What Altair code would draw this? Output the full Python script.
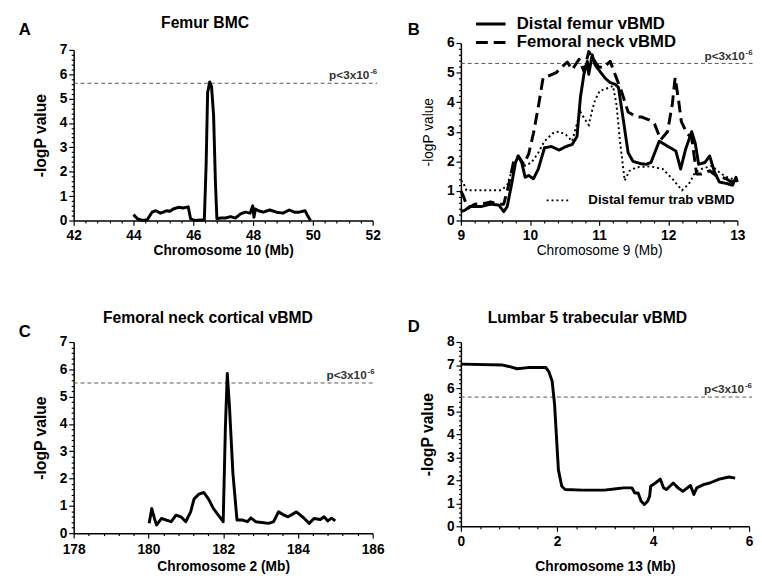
import altair as alt
import pandas as pd

FONT = "Liberation Sans"
P_MAIN = "p<3x10"
P_EXP = "-6"

# ---------------- Panel A: Femur BMC, chromosome 10 ----------------
a_pos = [44.0, 44.13, 44.3, 44.46, 44.62, 44.75, 44.9, 45.0, 45.1, 45.22, 45.33, 45.5,
         45.66, 45.83, 45.91, 46.04, 46.37, 46.43, 46.48, 46.55, 46.61, 46.68, 46.74,
         46.79, 46.92, 47.08, 47.25, 47.41, 47.58, 47.74, 47.9, 47.99, 48.03, 48.08,
         48.18, 48.34, 48.56, 48.78, 49.0, 49.21, 49.38, 49.54, 49.74, 49.82, 49.92]
a_val = [0.24, 0.07, 0.0, 0.03, 0.34, 0.4, 0.3, 0.34, 0.4, 0.38, 0.47, 0.54,
         0.51, 0.56, 0.07, 0.0, 0.03, 2.3, 5.25, 5.68, 5.5, 4.3, 1.6,
         0.07, 0.1, 0.1, 0.16, 0.1, 0.27, 0.34, 0.3, 0.6, 0.13, 0.47,
         0.4, 0.34, 0.43, 0.34, 0.3, 0.43, 0.34, 0.34, 0.4, 0.2, 0.0]

# ---------------- Panel B: chromosome 9 ----------------
b1_name = "Distal femur vBMD"
b1_pos = [9.0, 9.06, 9.13, 9.29, 9.43, 9.55, 9.62, 9.67, 9.74, 9.79, 9.83, 9.88, 9.93,
          9.98, 10.05, 10.12, 10.21, 10.31, 10.42, 10.52, 10.61, 10.68, 10.73, 10.78,
          10.83, 10.85, 10.9, 10.94, 11.01, 11.08, 11.16, 11.23, 11.28, 11.35, 11.42,
          11.49, 11.6, 11.68, 11.75, 11.87, 11.99, 12.11, 12.18, 12.25, 12.34, 12.39,
          12.44, 12.53, 12.6, 12.67, 12.74, 12.86, 12.93, 12.98, 13.0]
b1_val = [0.3, 0.35, 0.47, 0.47, 0.55, 0.52, 0.3, 0.47, 1.3, 1.96, 2.18, 1.96, 1.46,
          1.52, 1.41, 1.74, 2.46, 2.5, 2.38, 2.5, 2.57, 2.84, 4.17, 4.94,
          5.38, 4.94, 5.6, 5.27, 5.05, 4.83, 4.66, 4.61, 4.5, 3.4, 2.29,
          2.0, 1.92, 1.9, 1.96, 2.68, 2.51, 2.35, 1.74, 2.4, 3.0, 2.62,
          1.9, 1.96, 2.18, 1.63, 1.3, 1.24, 1.19, 1.46, 1.3]

b2_name = "Femoral neck vBMD"
b2_pos = [9.0, 9.03, 9.1, 9.2, 9.34, 9.43, 9.53, 9.62, 9.69, 9.76, 9.83, 9.91, 9.98,
          10.05, 10.12, 10.19, 10.26, 10.38, 10.47, 10.54, 10.61, 10.71, 10.78, 10.85,
          10.92, 10.99, 11.06, 11.16, 11.23, 11.32, 11.42, 11.54, 11.61, 11.73, 11.8,
          11.89, 11.99, 12.06, 12.1, 12.15, 12.19, 12.27, 12.34, 12.41, 12.48, 12.6,
          12.69, 12.77, 12.84, 12.91, 13.0]
b2_val = [1.0, 0.86, 0.41, 0.55, 0.58, 0.63, 0.55, 0.55, 1.19, 1.96, 2.18, 1.9, 2.24,
          2.95, 3.84, 4.83, 4.88, 5.0, 5.21, 5.36, 5.1, 5.45, 5.05, 5.71,
          5.44, 5.2, 5.16, 5.38, 4.94, 4.39, 3.67, 3.5, 3.5, 3.39, 3.28,
          2.73, 3.0, 3.95, 4.83, 4.06, 3.34, 2.95, 2.79, 1.57, 1.57, 1.68,
          1.52, 1.46, 1.41, 1.3, 1.41]

b3_name = "Distal femur trab vBMD"
b3_pos = [9.0, 9.03, 9.08, 9.2, 9.39, 9.58, 9.67, 9.76, 9.83, 9.93, 10.02, 10.12, 10.21,
          10.33, 10.42, 10.52, 10.61, 10.68, 10.73, 10.8, 10.85, 10.9, 10.94, 11.01,
          11.09, 11.2, 11.25, 11.3, 11.35, 11.37, 11.44, 11.54, 11.73, 11.92, 12.06,
          12.2, 12.3, 12.39, 12.48, 12.63, 12.77, 12.86, 13.0]
b3_val = [1.35, 1.3, 1.02, 1.02, 1.02, 1.02, 1.19, 1.85, 2.12, 1.85, 1.96, 2.29, 2.68,
          2.95, 3.01, 2.9, 2.68, 3.28, 3.67, 3.4, 3.23, 3.73, 4.06, 4.39,
          4.44, 4.55, 3.95, 2.73, 1.74, 1.35, 1.68, 1.8, 1.83, 1.74, 1.41,
          1.02, 1.24, 1.63, 1.74, 1.85, 1.57, 1.46, 1.35]

# ---------------- Panel C: Femoral neck cortical vBMD, chromosome 2 ----------------
c_pos = [180.02, 180.09, 180.16, 180.22, 180.35, 180.48, 180.61, 180.74, 180.87, 181.0,
         181.13, 181.22, 181.35, 181.48, 181.61, 181.74, 181.87, 182.0, 182.06, 182.11,
         182.17, 182.26, 182.37, 182.52, 182.65, 182.74, 182.87, 183.22, 183.35, 183.48,
         183.6, 183.74, 183.96, 184.17, 184.3, 184.43, 184.6, 184.7, 184.8, 184.9, 185.0]
c_val = [0.36, 0.9, 0.54, 0.3, 0.54, 0.48, 0.42, 0.66, 0.6, 0.42,
         0.78, 1.25, 1.43, 1.49, 1.25, 0.9, 0.66, 0.42, 3.9, 5.85,
         4.6, 2.2, 0.48, 0.48, 0.42, 0.56, 0.42, 0.36, 0.42, 0.78,
         0.68, 0.6, 0.78, 0.54, 0.36, 0.54, 0.5, 0.6, 0.45, 0.55, 0.45]

# ---------------- Panel D: Lumbar 5 trabecular vBMD, chromosome 13 ----------------
d_pos = [0.0, 0.87, 1.0, 1.17, 1.4, 1.77, 1.83, 1.9, 1.95, 1.99, 2.03, 2.1, 2.17, 2.53,
         2.99, 3.19, 3.39, 3.56, 3.62, 3.69, 3.75, 3.82, 3.89, 3.93, 3.95, 4.05, 4.15,
         4.22, 4.28, 4.42, 4.52, 4.62, 4.78, 4.85, 4.91, 5.05, 5.18, 5.38, 5.58, 5.71]
d_val = [7.04, 7.0, 6.94, 6.84, 6.89, 6.89, 6.72, 6.3, 5.3, 3.87, 2.45, 1.74, 1.6, 1.57,
         1.57, 1.62, 1.67, 1.67, 1.45, 1.45, 1.1, 0.95, 1.1, 1.31, 1.74, 1.88, 2.05,
         1.67, 1.6, 1.88, 1.67, 1.52, 1.77, 1.38, 1.67, 1.81, 1.88, 2.05, 2.14, 2.09]

# threshold lines (-log10 p) per panel, as drawn
thr_a, thr_b, thr_c, thr_d = 5.63, 5.31, 5.5, 5.61


def tick_values(lo, hi, major, nminor=5):
    step = major / nminor
    n = int(round((hi - lo) / step))
    return [round(lo + i * step, 4) for i in range(n + 1)]


def major_test(major):
    return f"abs(datum.value - round(datum.value / {major}) * {major}) < 1e-6"


def x_axis(title, lo, hi, major, weight="bold", size=14, lpad=3, tpad=2):
    test = major_test(major)
    return alt.Axis(title=title, values=tick_values(lo, hi, major),
                    labelExpr=f"{test} ? format(datum.value, 'd') : ''",
                    tickSize={"condition": {"test": test, "value": 5}, "value": 2.5},
                    labelPadding=lpad, titlePadding=tpad,
                    labelFontSize=14, labelFontWeight="bold", titleFontSize=size,
                    titleFontWeight=weight, labelFlush=False, labelOverlap=False,
                    domainWidth=1.5, tickWidth=1.2, grid=False)


def y_axis(title, lo, hi, weight="bold", size=16):
    test = major_test(1)
    return alt.Axis(title=title, values=tick_values(lo, hi, 1),
                    labelExpr=f"{test} ? format(datum.value, 'd') : ''",
                    tickSize={"condition": {"test": test, "value": 5}, "value": 2.5},
                    labelPadding=2, titlePadding=11,
                    labelFontSize=14, labelFontWeight="bold", titleFontSize=size,
                    titleFontWeight=weight, labelOverlap=False,
                    domainWidth=1.5, tickWidth=1.2, grid=False)


def label(text, x, y, size, weight="bold"):
    return alt.Chart(pd.DataFrame({"t": [text]})).mark_text(
        font=FONT, fontSize=size, fontWeight=weight, align="center", baseline="middle",
        color="black").encode(x=alt.value(x), y=alt.value(y), text="t:N")


def threshold(x0, x1, yv, xs, ys, xa, ya):
    df = pd.DataFrame({"x": [x0], "x2": [x1], "y": [yv], "main": [P_MAIN], "exp": [P_EXP]})
    enc_x2 = alt.X("x2:Q", scale=xs, axis=xa)
    enc_y = alt.Y("y:Q", scale=ys, axis=ya)
    rule = alt.Chart(df).mark_rule(color="#555555", strokeWidth=1, strokeDash=[4, 3]).encode(
        x=alt.X("x:Q", scale=xs, axis=xa), x2="x2:Q", y=enc_y)
    txt = alt.Chart(df).mark_text(align="right", baseline="bottom", dx=-8, dy=-1, font=FONT,
                                  fontSize=12, fontWeight="bold", color="#333333").encode(
        x=enc_x2, y=enc_y, text="main:N")
    sup = alt.Chart(df).mark_text(align="right", baseline="bottom", dx=0, dy=-7, font=FONT,
                                  fontSize=8, fontWeight="bold", color="#333333").encode(
        x=enc_x2, y=enc_y, text="exp:N")
    return [rule, txt, sup]


# ---- A ----
xsA = alt.Scale(domain=[42, 52], nice=False, zero=False)
ysA = alt.Scale(domain=[0, 7], nice=False, range=[181, 7])
xaA = x_axis("Chromosome 10 (Mb)", 42, 52, 2)
yaA = y_axis("-logP value", 0, 7)
lineA = alt.Chart(pd.DataFrame({"x": a_pos, "y": a_val})).mark_line(
    color="black", strokeWidth=3, strokeJoin="round").encode(
    x=alt.X("x:Q", scale=xsA, axis=xaA), y=alt.Y("y:Q", scale=ysA, axis=yaA))
panelA = alt.layer(*threshold(42, 52.15, thr_a, xsA, ysA, xaA, yaA), lineA,
                   label("A", -50, -13, 17), label("Femur BMC", 134, -20, 16)
                   ).properties(width=305, height=181)

# ---- B ----
xsB = alt.Scale(domain=[9, 13], nice=False, zero=False)
ysB = alt.Scale(domain=[0, 6], nice=False)
xaB = x_axis("Chromosome 9 (Mb)", 9, 13, 1, weight="normal", size=14)
yaB = y_axis("-logP value", 0, 6, weight="normal", size=14)
dfB = pd.DataFrame({
    "x": b1_pos + b2_pos,
    "y": b1_val + b2_val,
    "series": [b1_name] * len(b1_pos) + [b2_name] * len(b2_pos),
})
mainB = alt.Chart(dfB).mark_line(color="black", strokeWidth=3, strokeJoin="round").encode(
    x=alt.X("x:Q", scale=xsB, axis=xaB), y=alt.Y("y:Q", scale=ysB, axis=yaB),
    strokeDash=alt.StrokeDash("series:N", scale=alt.Scale(domain=[b1_name, b2_name],
                                                          range=[[1, 0], [12, 6]]),
                              legend=alt.Legend(orient="none", legendX=20, legendY=-30, title=None,
                                                symbolType="M-1.67,0H1.67", symbolSize=324,
                                                symbolStrokeWidth=3, symbolStrokeColor="black",
                                                symbolFillColor="transparent",
                                                labelFont=FONT, labelFontSize=17,
                                                labelFontWeight="bold", labelColor="black",
                                                labelLimit=400, labelOffset=16, rowPadding=-2,
                                                padding=0)))
dfB3 = pd.DataFrame({"x": b3_pos, "y": b3_val, "series": [b3_name] * len(b3_pos)})
trabB = alt.Chart(dfB3).mark_line(strokeWidth=2, strokeDash=[2, 3]).encode(
    x=alt.X("x:Q", scale=xsB, axis=xaB), y=alt.Y("y:Q", scale=ysB, axis=yaB),
    color=alt.Color("series:N", scale=alt.Scale(domain=[b3_name], range=["black"]),
                    legend=alt.Legend(orient="none", legendX=92, legendY=153, title=None,
                                      symbolType="M-1.85,0H1.85", symbolSize=169,
                                      symbolStrokeWidth=2, symbolFillColor="transparent",
                                      symbolDash=[2, 3], labelFont=FONT, labelFontSize=13.5,
                                      labelFontWeight="bold", labelColor="black",
                                      labelLimit=400, labelOffset=23, padding=0)))
panelB = alt.layer(*threshold(9, 13.22, thr_b, xsB, ysB, xaB, yaB), trabB, mainB,
                   label("B", -48, -13, 17)
                   ).resolve_legend(color="independent", strokeDash="independent"
                   ).properties(width=282, height=181)

# ---- C ----
xsC = alt.Scale(domain=[178, 186], nice=False, zero=False)
ysC = alt.Scale(domain=[0, 7], nice=False)
xaC = x_axis("Chromosome 2 (Mb)", 178, 186, 2, lpad=5, tpad=3)
yaC = y_axis("-logP value", 0, 7)
lineC = alt.Chart(pd.DataFrame({"x": c_pos, "y": c_val})).mark_line(
    color="black", strokeWidth=3, strokeJoin="round").encode(
    x=alt.X("x:Q", scale=xsC, axis=xaC), y=alt.Y("y:Q", scale=ysC, axis=yaC))
panelC = alt.layer(*threshold(178, 186.05, thr_c, xsC, ysC, xaC, yaC), lineC,
                   label("C", -50, -10, 17),
                   label("Femoral neck cortical vBMD", 137, -24, 16)
                   ).properties(width=305, height=195)

# ---- D ----
xsD = alt.Scale(domain=[0, 6], nice=False, zero=False)
ysD = alt.Scale(domain=[0, 8], nice=False)
xaD = x_axis("Chromosome 13 (Mb)", 0, 6, 2, lpad=4, tpad=11)
yaD = y_axis("-logP value", 0, 8)
lineD = alt.Chart(pd.DataFrame({"x": d_pos, "y": d_val})).mark_line(
    color="black", strokeWidth=3, strokeJoin="round").encode(
    x=alt.X("x:Q", scale=xsD, axis=xaD), y=alt.Y("y:Q", scale=ysD, axis=yaD))
panelD = alt.layer(*threshold(0, 6.06, thr_d, xsD, ysD, xaD, yaD), lineD,
                   label("D", -48, -15, 17),
                   label("Lumbar 5 trabecular vBMD", 129, -24, 16)
                   ).properties(width=294, height=188)

chart = alt.concat(panelA, panelB, panelC, panelD, columns=2,
                   spacing={"row": 124, "column": 90}
                   ).resolve_scale(x="independent", y="independent"
                   ).properties(bounds="flush", align="each",
                                padding={"left": 10, "top": 0, "right": 0, "bottom": 0},
                                background="white"
                   ).configure_view(stroke=None
                   ).configure_axis(domainColor="black", tickColor="black", labelColor="black",
                                    titleColor="black", labelFont=FONT, titleFont=FONT)

chart.save("out.html", embed_options={"renderer": "svg", "actions": False})
